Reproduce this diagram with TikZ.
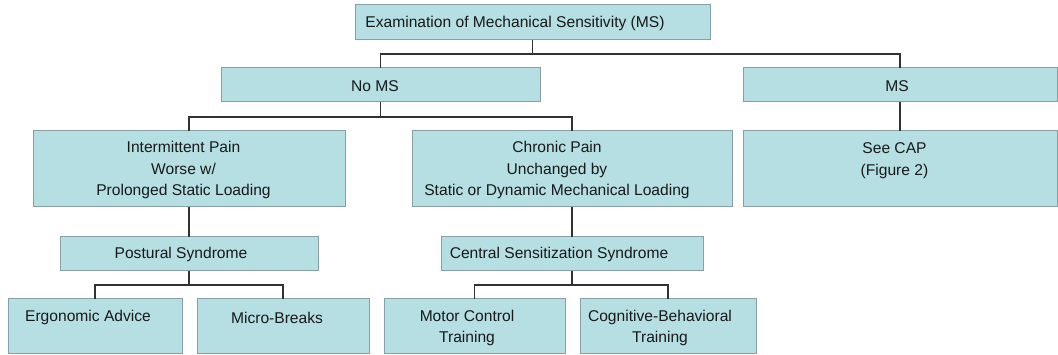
\documentclass[tikz,border=0pt]{standalone}
\usepackage{fontspec}
\setmainfont{Liberation Sans}
\definecolor{boxfill}{RGB}{181,223,227}
\definecolor{boxline}{RGB}{135,160,165}
\definecolor{connline}{RGB}{50,50,50}
\definecolor{txtcol}{RGB}{25,25,25}
\begin{document}
\begin{tikzpicture}[x=1pt,y=-1pt,
  box/.style={draw=boxline, fill=boxfill, line width=1pt, inner sep=0pt, outer sep=0pt},
  lbl/.style={text=txtcol, align=center, inner sep=0pt, font=\fontsize{15.6}{21.5}\selectfont},
  conn/.style={draw=connline, line width=1.3pt}]
\useasboundingbox (0,0) rectangle (1058,355);
% boxes
\node[box, minimum width=355pt, minimum height=35pt] (top) at (532.5,22.5) {};
\node[box, minimum width=319pt, minimum height=34pt] (noms) at (380.5,85) {};
\node[box, minimum width=314pt, minimum height=34pt] (ms) at (900,85) {};
\node[box, minimum width=312pt, minimum height=76pt] (int) at (189,169) {};
\node[box, minimum width=320pt, minimum height=76pt] (chr) at (572,169) {};
\node[box, minimum width=314pt, minimum height=76pt] (cap) at (900,169) {};
\node[box, minimum width=258pt, minimum height=34pt] (pos) at (189,254) {};
\node[box, minimum width=262pt, minimum height=34pt] (cen) at (572,254) {};
\node[box, minimum width=174pt, minimum height=55pt] (erg) at (95,326.5) {};
\node[box, minimum width=172pt, minimum height=55pt] (mic) at (283,326.5) {};
\node[box, minimum width=181pt, minimum height=55pt] (mot) at (474.5,326.5) {};
\node[box, minimum width=176pt, minimum height=55pt] (cog) at (668,326.5) {};
% labels
\node[lbl] (ttop) at (515,23.5) {Examination of Mechanical Sensitivity (MS)};
\node[lbl] (tnoms) at (375,86) {No MS};
\node[lbl] (tms) at (897,86) {MS};
\node[lbl] (tint) at (183.5,170) {Intermittent Pain\\Worse w/\\Prolonged Static Loading};
\node[lbl] (tchr) at (557,170) {Chronic Pain\\Unchanged by\\Static or Dynamic Mechanical Loading};
\node[lbl] (tcap) at (894.5,160.5) {See CAP\\(Figure 2)};
\node[lbl] (tpos) at (181,254.5) {Postural Syndrome};
\node[lbl] (tcen) at (559,254.5) {Central Sensitization Syndrome};
\node[lbl] (terg) at (88,317.5) {Ergonomic Advice};
\node[lbl] (tmic) at (277,317.5) {Micro-Breaks};
\node[lbl] (tmot) at (467,328) {Motor Control\\Training};
\node[lbl] (tcog) at (660,328) {Cognitive-Behavioral\\Training};
% connectors
\draw[conn] (top.south) -- ++(0,14) -| (noms.north);
\draw[conn] (top.south) -- ++(0,14) -| (ms.north);
\draw[conn] (noms.south) -- ++(0,15) -| (int.north);
\draw[conn] (noms.south) -- ++(0,15) -| (chr.north);
\draw[conn] (ms.south) -- (cap.north);
\draw[conn] (int.south) -- (pos.north);
\draw[conn] (chr.south) -- (cen.north);
\draw[conn] (pos.south) -- ++(0,14) -| (erg.north);
\draw[conn] (pos.south) -- ++(0,14) -| (mic.north);
\draw[conn] (cen.south) -- ++(0,14) -| (mot.north);
\draw[conn] (cen.south) -- ++(0,14) -| (cog.north);
\end{tikzpicture}
\end{document}
